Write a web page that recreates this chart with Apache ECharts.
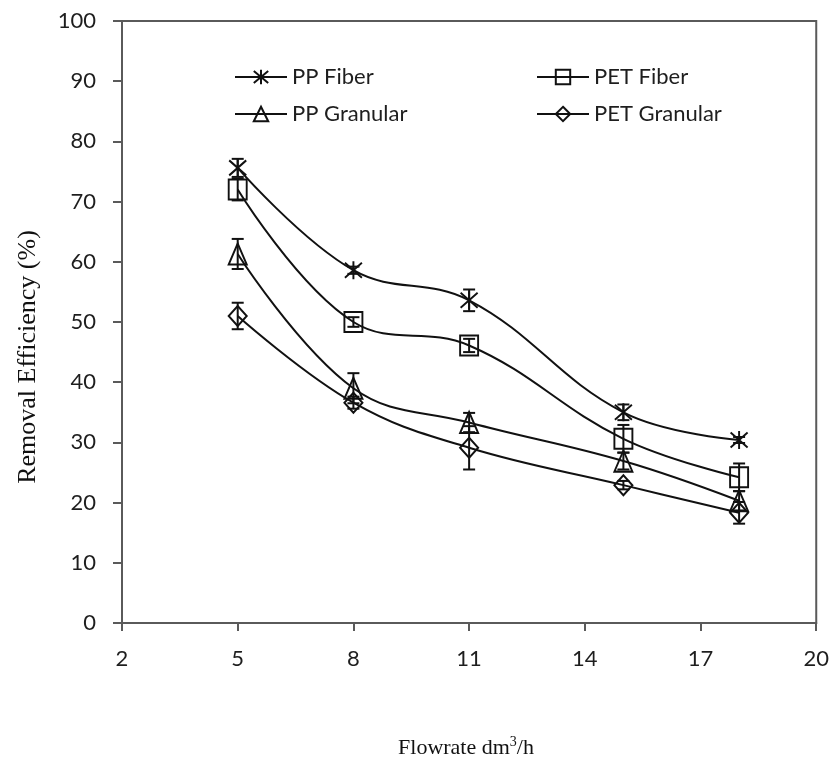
<!DOCTYPE html>
<html>
<head>
<meta charset="utf-8">
<script src="https://cdn.jsdelivr.net/npm/echarts@6/dist/echarts.min.js"></script>
<style>
  html, body { margin: 0; padding: 0; background: #fff; }
  #chart { width: 832px; height: 765px; }
</style>
</head>
<body>
<div id="chart"></div>
<script>
// Flowrate (dm3/h) at which each media was tested
const flowrate = [5, 8, 11, 15, 18];

// Removal efficiency (%) and its standard deviation for each media
const ppFiber        = [75.6, 58.6, 53.6, 35.0, 30.4];
const ppFiberErr     = [1.5, 0.6, 1.8, 1.3, 0.5];
const petFiber       = [72.0, 50.0, 46.1, 30.6, 24.2];
const petFiberErr    = [1.8, 0.8, 1.1, 2.3, 2.3];
const ppGranular     = [61.3, 39.0, 33.3, 26.9, 20.3];
const ppGranularErr  = [2.5, 2.5, 1.6, 1.4, 1.6];
const petGranular    = [51.0, 36.6, 29.1, 22.9, 18.3];
const petGranularErr = [2.2, 1.0, 3.6, 0.7, 1.8];

const seriesNames = ['PP Fiber', 'PET Fiber', 'PP Granular', 'PET Granular'];

const ink = '#111';
const axisGray = '#5a5a5a';
const sansFont = 'Lato';
const serifFont = 'Liberation Serif';

// Asterisk marker: an X crossed with a vertical stroke
const asterisk = 'path://M0,0L10,10M10,0L0,10M5,-1L5,11';

const markers = {
  'PP Fiber':     { symbol: asterisk,  size: [17, 18] },
  'PET Fiber':    { symbol: 'rect',    size: [18, 20] },
  'PP Granular':  { symbol: 'triangle', size: [18, 21] },
  'PET Granular': { symbol: 'diamond', size: [18, 20] }
};

const values = {
  'PP Fiber': [ppFiber, ppFiberErr],
  'PET Fiber': [petFiber, petFiberErr],
  'PP Granular': [ppGranular, ppGranularErr],
  'PET Granular': [petGranular, petGranularErr]
};

function lineSeries(name) {
  const [vals] = values[name];
  return {
    name: name,
    type: 'line',
    smooth: 0.4,
    data: flowrate.map((x, i) => [x, vals[i]]),
    symbol: markers[name].symbol,
    symbolSize: markers[name].size,
    showAllSymbol: true,
    lineStyle: { color: ink, width: 2 },
    itemStyle: { color: 'none', borderColor: ink, borderWidth: 2 },
    emphasis: { disabled: true },
    z: 3
  };
}

// Error bars: vertical whisker with short caps at mean ± deviation
function errorSeries(name) {
  const [vals, errs] = values[name];
  return {
    name: name + ' error',
    type: 'custom',
    data: flowrate.map((x, i) => [x, vals[i] - errs[i], vals[i] + errs[i]]),
    renderItem: function (params, api) {
      const x = api.value(0);
      const lo = api.coord([x, api.value(1)]);
      const hi = api.coord([x, api.value(2)]);
      const half = 6;
      const style = { stroke: ink, lineWidth: 2 };
      return {
        type: 'group',
        children: [
          { type: 'line', shape: { x1: lo[0], y1: lo[1], x2: hi[0], y2: hi[1] }, style: style },
          { type: 'line', shape: { x1: lo[0] - half, y1: lo[1], x2: lo[0] + half, y2: lo[1] }, style: style },
          { type: 'line', shape: { x1: hi[0] - half, y1: hi[1], x2: hi[0] + half, y2: hi[1] }, style: style }
        ]
      };
    },
    silent: true,
    z: 4
  };
}

const legendText = { fontFamily: sansFont, fontSize: 22, lineHeight: 18, color: '#1e1e1e' };
const legendBase = {
  orient: 'vertical', top: 66, padding: 0,
  itemWidth: 52, itemHeight: 18, itemGap: 15,
  textStyle: legendText, selectedMode: false
};

const chart = echarts.init(document.getElementById('chart'), null, { renderer: 'canvas' });

chart.setOption({
  backgroundColor: '#fff',
  animation: false,
  grid: {
    left: 122, right: 15, top: 21, bottom: 142,
    show: true, borderColor: axisGray, borderWidth: 2, backgroundColor: 'transparent'
  },
  legend: [
    Object.assign({ data: ['PP Fiber', 'PP Granular'], left: 234 }, legendBase),
    Object.assign({ data: ['PET Fiber', 'PET Granular'], left: 536 }, legendBase)
  ],
  xAxis: {
    type: 'value', min: 2, max: 20, interval: 3,
    axisLine: { show: true, lineStyle: { color: axisGray, width: 2 } },
    axisTick: { show: true, inside: false, length: 8, lineStyle: { color: axisGray, width: 2 } },
    axisLabel: { fontFamily: sansFont, fontSize: 22, color: '#1e1e1e', margin: 25 },
    splitLine: { show: false }
  },
  yAxis: {
    type: 'value', min: 0, max: 100, interval: 10,
    axisLine: { show: true, lineStyle: { color: axisGray, width: 2 } },
    axisTick: { show: true, inside: false, length: 9, lineStyle: { color: axisGray, width: 2 } },
    axisLabel: { fontFamily: sansFont, fontSize: 22, color: '#1e1e1e', margin: 26 },
    splitLine: { show: false }
  },
  graphic: [
    {
      type: 'text', x: 28, y: 357, rotation: Math.PI / 2,
      style: {
        text: 'Removal Efficiency (%)', fontFamily: serifFont, fontSize: 26,
        fill: '#111', align: 'center', verticalAlign: 'middle'
      }
    },
    {
      type: 'text', x: 466, y: 747,
      style: {
        text: '{t|Flowrate dm}{s|3}{t|/h}',
        align: 'center', verticalAlign: 'middle',
        rich: {
          t: { fontFamily: serifFont, fontSize: 22, fill: '#111', verticalAlign: 'bottom' },
          s: { fontFamily: serifFont, fontSize: 14, fill: '#111', verticalAlign: 'top', padding: [0, 0, 10, 0] }
        }
      }
    }
  ],
  series: [
    ...seriesNames.map(lineSeries),
    ...seriesNames.map(errorSeries)
  ]
});
</script>
</body>
</html>
